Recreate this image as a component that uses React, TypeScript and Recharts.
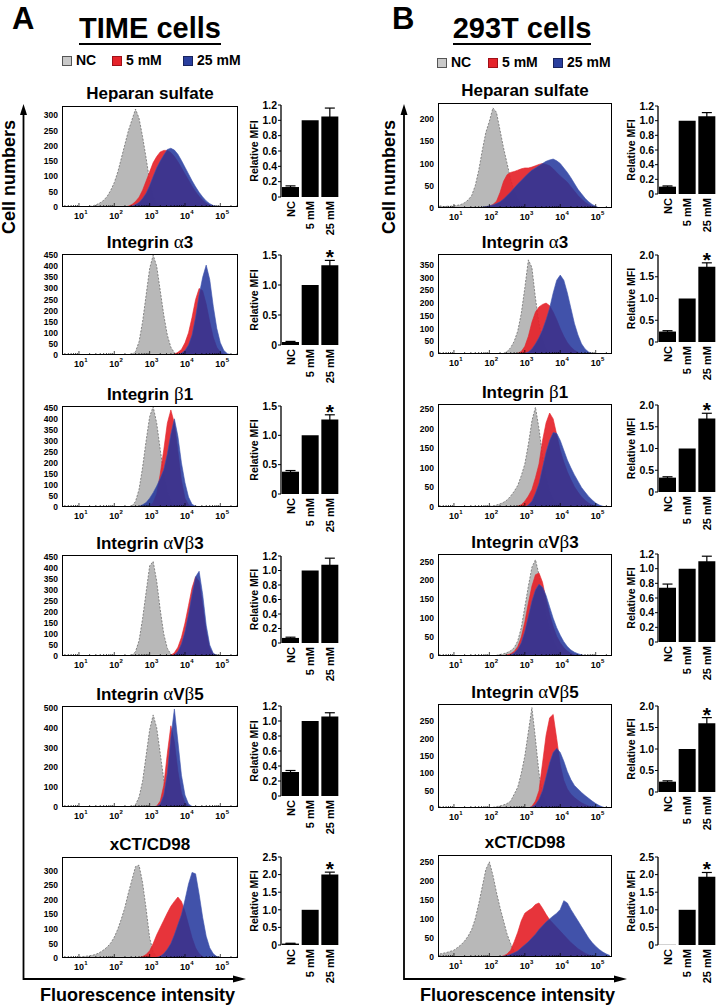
import React from 'react'
import { AreaChart, Area, XAxis, YAxis, BarChart, Bar, ErrorBar, LabelList } from 'recharts'

const FONT = '"Liberation Sans", Arial, Helvetica, sans-serif'
const GREEK_FONT = '"Liberation Serif", "DejaVu Serif", serif'
const GRAY = '#b8b8b8'
const RED = '#e5232a'
const BLUE = '#22359c'

const GROUPS = ['NC', '5 mM', '25 mM']
const TITLES = ['Heparan sulfate', 'Integrin α3', 'Integrin β1', 'Integrin αVβ3', 'Integrin αVβ5', 'xCT/CD98']

// ---- histograms, panel A (TIME cells); x is log10 fluorescence, bins of 0.1 ----
const A1_NC_FROM = 1.3
const A1_NC = [2, 4, 8, 14, 22, 35, 55, 80, 115, 160, 205, 250, 285, 320, 290, 230, 160, 85, 35, 10, 3, 0]
const A1_M5_FROM = 2.4
const A1_M5 = [3, 8, 18, 32, 55, 85, 115, 145, 165, 180, 185, 185, 178, 165, 148, 128, 108, 88, 68, 50, 35, 22, 12, 6, 2, 0]
const A1_M25_FROM = 2.5
const A1_M25 = [3, 8, 15, 28, 45, 70, 100, 128, 150, 170, 188, 192, 186, 172, 152, 130, 108, 86, 66, 48, 33, 20, 11, 5, 2, 0]

const A2_NC_FROM = 2.5
const A2_NC = [3, 15, 60, 150, 270, 390, 450, 400, 290, 180, 90, 35, 10, 2, 0]
const A2_M5_FROM = 3.7
const A2_M5 = [3, 12, 25, 55, 100, 170, 250, 300, 290, 230, 150, 80, 35, 12, 3, 0]
const A2_M25_FROM = 3.8
const A2_M25 = [3, 8, 20, 45, 90, 170, 270, 350, 405, 340, 220, 120, 55, 20, 6, 2, 0]

const A3_NC_FROM = 2.5
const A3_NC = [5, 25, 80, 180, 300, 410, 455, 380, 260, 150, 70, 25, 6, 0]
const A3_M5_FROM = 3.0
const A3_M5 = [5, 20, 60, 150, 260, 380, 440, 380, 250, 120, 40, 10, 2, 0]
const A3_M25_FROM = 2.7
const A3_M25 = [3, 10, 20, 40, 65, 95, 130, 170, 240, 330, 400, 320, 200, 110, 45, 12, 3, 0]

const A4_NC_FROM = 2.5
const A4_NC = [3, 20, 70, 170, 290, 410, 430, 340, 210, 100, 35, 8, 0]
const A4_M5_FROM = 3.6
const A4_M5 = [3, 15, 40, 85, 150, 230, 310, 360, 340, 230, 110, 35, 8, 0]
const A4_M25_FROM = 3.7
const A4_M25 = [5, 20, 55, 110, 190, 280, 360, 385, 280, 140, 50, 12, 3, 0]

const A5_NC_FROM = 2.5
const A5_NC = [2, 12, 50, 130, 260, 390, 465, 400, 270, 140, 55, 15, 3, 0]
const A5_M5_FROM = 3.2
const A5_M5 = [5, 30, 110, 270, 410, 330, 180, 70, 20, 5, 0]
const A5_M25_FROM = 3.2
const A5_M25 = [3, 15, 60, 170, 350, 495, 330, 160, 60, 15, 3, 0]

const A6_NC_FROM = 1.0
const A6_NC = [3, 5, 6, 8, 10, 14, 20, 28, 38, 52, 72, 100, 135, 175, 225, 270, 315, 320, 260, 170, 70, 20, 5, 0]
const A6_M5_FROM = 2.7
const A6_M5 = [2, 5, 12, 25, 50, 80, 105, 130, 155, 178, 195, 210, 195, 160, 115, 70, 35, 15, 5, 0]
const A6_M25_FROM = 3.2
const A6_M25 = [2, 6, 15, 30, 50, 80, 115, 150, 200, 255, 295, 290, 220, 140, 75, 35, 15, 5, 2, 0]

// ---- histograms, panel B (293T cells) ----
const B1_NC_FROM = 0.6
const B1_NC = [5, 3, 4, 4, 5, 6, 8, 12, 18, 28, 50, 85, 130, 170, 195, 225, 215, 175, 135, 100, 65, 38, 20, 10, 4, 0]
const B1_M5_FROM = 1.9
const B1_M5 = [2, 4, 8, 15, 35, 60, 75, 80, 82, 85, 88, 90, 90, 92, 95, 98, 100, 98, 95, 88, 80, 72, 65, 58, 48, 38, 28, 20, 13, 8, 4, 2, 0]
const B1_M25_FROM = 1.8
const B1_M25 = [2, 3, 5, 7, 10, 14, 20, 28, 36, 45, 54, 62, 70, 78, 85, 90, 95, 100, 105, 108, 110, 106, 100, 90, 80, 68, 55, 42, 32, 22, 14, 8, 4, 0]

const B2_NC_FROM = 2.4
const B2_NC = [3, 10, 25, 50, 90, 160, 260, 370, 340, 220, 120, 55, 20, 5, 0]
const B2_M5_FROM = 2.8
const B2_M5 = [3, 10, 30, 70, 125, 165, 185, 195, 200, 190, 165, 135, 100, 70, 45, 28, 15, 7, 2, 0]
const B2_M25_FROM = 3.0
const B2_M25 = [3, 8, 20, 40, 65, 95, 135, 180, 240, 290, 310, 290, 240, 180, 120, 75, 40, 20, 8, 2, 0]

const B3_NC_FROM = 2.0
const B3_NC = [2, 3, 5, 8, 12, 18, 28, 40, 55, 80, 110, 160, 220, 255, 200, 130, 75, 40, 20, 8, 2, 0]
const B3_M5_FROM = 2.8
const B3_M5 = [2, 6, 15, 28, 45, 75, 110, 170, 215, 240, 225, 185, 145, 115, 90, 70, 52, 38, 26, 17, 10, 5, 2, 0]
const B3_M25_FROM = 3.1
const B3_M25 = [5, 15, 35, 60, 100, 140, 170, 190, 188, 170, 145, 120, 100, 82, 66, 50, 38, 27, 18, 10, 5, 2, 0]

const B4_NC_FROM = 2.2
const B4_NC = [2, 4, 6, 9, 14, 22, 40, 75, 130, 185, 235, 255, 215, 160, 110, 70, 42, 22, 10, 4, 0]
const B4_M5_FROM = 2.5
const B4_M5 = [3, 6, 12, 25, 50, 90, 140, 185, 215, 220, 195, 150, 110, 78, 52, 35, 22, 13, 7, 3, 0]
const B4_M25_FROM = 2.6
const B4_M25 = [3, 8, 18, 35, 65, 105, 145, 175, 190, 182, 160, 130, 100, 75, 55, 38, 25, 16, 10, 6, 3, 1, 0]

const B5_NC_FROM = 2.1
const B5_NC = [2, 4, 6, 9, 13, 20, 40, 60, 100, 150, 220, 290, 200, 100, 40, 12, 3, 0]
const B5_M5_FROM = 3.2
const B5_M5 = [5, 20, 50, 130, 210, 260, 270, 200, 125, 80, 55, 40, 30, 22, 15, 10, 6, 3, 0]
const B5_M25_FROM = 3.2
const B5_M25 = [3, 10, 25, 50, 90, 130, 160, 172, 160, 135, 105, 82, 65, 55, 45, 36, 28, 20, 13, 7, 3, 0]

const B6_NC_FROM = 0.6
const B6_NC = [8, 10, 12, 15, 18, 25, 32, 42, 55, 72, 100, 140, 185, 230, 250, 215, 170, 130, 95, 60, 35, 15, 4, 0]
const B6_M5_FROM = 2.4
const B6_M5 = [3, 8, 18, 40, 65, 95, 115, 122, 128, 138, 142, 128, 112, 98, 88, 78, 68, 58, 48, 38, 30, 22, 16, 10, 6, 3, 0]
const B6_M25_FROM = 2.4
const B6_M25 = [2, 4, 7, 11, 16, 24, 32, 40, 50, 60, 72, 82, 92, 100, 108, 115, 125, 148, 142, 125, 110, 95, 80, 65, 50, 38, 28, 20, 13, 8, 4]

// histogram y ticks / tops
const A_HIST_TICKS = [
  [0, 50, 100, 150, 200, 250, 300],
  [0, 50, 100, 150, 200, 250, 300, 350, 400, 450],
  [0, 50, 100, 150, 200, 250, 300, 350, 400, 450],
  [0, 50, 100, 150, 200, 250, 300, 350, 400, 450],
  [0, 100, 200, 300, 400, 500],
  [0, 50, 100, 150, 200, 250, 300],
]
const A_HIST_MAX = [330, 455, 458, 459, 510, 348]
const B_HIST_TICKS = [
  [0, 50, 100, 150, 200],
  [0, 50, 100, 150, 200, 250, 300, 350],
  [0, 50, 100, 150, 200, 250],
  [0, 50, 100, 150, 200, 250],
  [0, 50, 100, 150, 200, 250],
  [0, 50, 100, 150, 200, 250],
]
const B_HIST_MAX = [236, 393, 263, 270, 300, 268]

// ---- relative MFI bars ----
const A_MFI = [[0.13, 1, 1.05], [0.05, 1, 1.33], [0.38, 1, 1.27], [0.07, 1, 1.08], [0.32, 1, 1.06], [0.04, 1, 2.0]]
const A_ERR = [[0.015, 0, 0.11], [0.01, 0, 0.08], [0.02, 0, 0.08], [0.01, 0, 0.09], [0.02, 0, 0.05], [0.01, 0, 0.07]]
const A_SIG = [['', '', ''], ['', '', '*'], ['', '', '*'], ['', '', ''], ['', '', ''], ['', '', '*']]
const B_MFI = [[0.1, 1, 1.06], [0.24, 1, 1.73], [0.33, 1, 1.69], [0.74, 1, 1.1], [0.24, 1, 1.6], [0.005, 1, 1.94]]
const B_ERR = [[0.01, 0, 0.05], [0.02, 0, 0.09], [0.02, 0, 0.12], [0.05, 0, 0.07], [0.02, 0, 0.13], [0, 0, 0.12]]
const B_SIG = [['', '', ''], ['', '', '*'], ['', '', '*'], ['', '', ''], ['', '', '*'], ['', '', '*']]

const T12 = [0, 0.2, 0.4, 0.6, 0.8, 1.0, 1.2]
const T15 = [0, 0.5, 1.0, 1.5]
const T20 = [0, 0.5, 1.0, 1.5, 2.0]
const T25 = [0, 0.5, 1.0, 1.5, 2.0, 2.5]
const A_BAR_TICKS = [T12, T15, T15, T12, T12, T25]
const B_BAR_TICKS = [T12, T20, T20, T12, T20, T25]

function hist(ncFrom: number, nc: number[], m5From: number, m5: number[], m25From: number, m25: number[]) {
  const rows = new Map<number, { x: number; nc: number; m5: number; m25: number }>()
  const add = (key: 'nc' | 'm5' | 'm25', from: number, vals: number[]) => {
    vals.forEach((v, i) => {
      const k = Math.round(from * 10) + i
      if (!rows.has(k)) rows.set(k, { x: k / 10, nc: 0, m5: 0, m25: 0 })
      rows.get(k)![key] = v
    })
  }
  add('nc', ncFrom, nc)
  add('m5', m5From, m5)
  add('m25', m25From, m25)
  return [...rows.entries()].sort((a, b) => a[0] - b[0]).map((e) => e[1])
}

const A_HISTS = [
  hist(A1_NC_FROM, A1_NC, A1_M5_FROM, A1_M5, A1_M25_FROM, A1_M25),
  hist(A2_NC_FROM, A2_NC, A2_M5_FROM, A2_M5, A2_M25_FROM, A2_M25),
  hist(A3_NC_FROM, A3_NC, A3_M5_FROM, A3_M5, A3_M25_FROM, A3_M25),
  hist(A4_NC_FROM, A4_NC, A4_M5_FROM, A4_M5, A4_M25_FROM, A4_M25),
  hist(A5_NC_FROM, A5_NC, A5_M5_FROM, A5_M5, A5_M25_FROM, A5_M25),
  hist(A6_NC_FROM, A6_NC, A6_M5_FROM, A6_M5, A6_M25_FROM, A6_M25),
]
const B_HISTS = [
  hist(B1_NC_FROM, B1_NC, B1_M5_FROM, B1_M5, B1_M25_FROM, B1_M25),
  hist(B2_NC_FROM, B2_NC, B2_M5_FROM, B2_M5, B2_M25_FROM, B2_M25),
  hist(B3_NC_FROM, B3_NC, B3_M5_FROM, B3_M5, B3_M25_FROM, B3_M25),
  hist(B4_NC_FROM, B4_NC, B4_M5_FROM, B4_M5, B4_M25_FROM, B4_M25),
  hist(B5_NC_FROM, B5_NC, B5_M5_FROM, B5_M5, B5_M25_FROM, B5_M25),
  hist(B6_NC_FROM, B6_NC, B6_M5_FROM, B6_M5, B6_M25_FROM, B6_M25),
]

// decade + minor log ticks inside a domain
function logTicks(dom: number[]) {
  const out: number[] = []
  for (let n = 0; n <= 5; n++) {
    for (let k = 1; k <= 9; k++) {
      const v = n + Math.log10(k)
      if (v >= dom[0] && v <= dom[1]) out.push(v)
    }
  }
  return out
}

const greek = (t: string) =>
  t.split(/([αβ])/).map((s, i) =>
    /[αβ]/.test(s) ? (
      <span key={i} style={{ fontFamily: GREEK_FONT, fontWeight: 400, fontSize: '1.12em' }}>{s}</span>
    ) : (
      <React.Fragment key={i}>{s}</React.Fragment>
    )
  )

function LogTick(props: any) {
  const { x, y, payload } = props
  const v = payload.value
  const major = Math.abs(v - Math.round(v)) < 1e-6
  return (
    <g>
      <line x1={x} x2={x} y1={y} y2={y - (major ? 4 : 2)} stroke="#000" strokeWidth={0.7} />
      {major && (
        <>
          <text x={x} y={y + 11.5} textAnchor="middle" fontSize={9} fontWeight={700} fontFamily={FONT} fill="#000">10</text>
          <text x={x + 5.3} y={y + 7} textAnchor="start" fontSize={6} fontWeight={700} fontFamily={FONT} fill="#000">{Math.round(v)}</text>
        </>
      )}
    </g>
  )
}

function Hist({ left, top, w, h, dom, yMax, yTicks, data, title }: any) {
  const PT = 5
  const YW = 30
  return (
    <>
      <div style={{ position: 'absolute', left, top: top - 21, width: w, textAlign: 'center', fontSize: 17, lineHeight: '17px', fontWeight: 700, whiteSpace: 'nowrap' }}>
        {greek(title)}
      </div>
      <div style={{ position: 'absolute', left: left - YW, top: top - PT }}>
        <AreaChart width={w + YW} height={h + PT + 20} data={data} margin={{ top: PT, right: 0, bottom: 0, left: 0 }}>
          <XAxis
            type="number"
            dataKey="x"
            domain={dom}
            allowDataOverflow
            ticks={logTicks(dom)}
            interval={0}
            tick={(p: any) => <LogTick {...p} />}
            tickSize={0}
            tickMargin={0}
            axisLine={false}
            tickLine={false}
            height={20}
          />
          <YAxis
            type="number"
            domain={[0, yMax]}
            allowDataOverflow
            ticks={yTicks}
            interval={0}
            width={YW}
            tickSize={2}
            tickMargin={2}
            axisLine={false}
            tickLine={false}
            tick={{ fontSize: 8.5, fontWeight: 700, fill: '#000', fontFamily: FONT }}
          />
          <Area type="linear" dataKey="nc" fill={GRAY} fillOpacity={1} stroke="#6f6f6f" strokeWidth={0.8} strokeDasharray="2 1.5" dot={false} activeDot={false} isAnimationActive={false} />
          <Area type="linear" dataKey="m5" fill={RED} fillOpacity={0.92} stroke={RED} strokeWidth={0.6} dot={false} activeDot={false} isAnimationActive={false} />
          <Area type="linear" dataKey="m25" fill={BLUE} fillOpacity={0.86} stroke="#3a52ad" strokeWidth={0.6} dot={false} activeDot={false} isAnimationActive={false} />
        </AreaChart>
      </div>
      <div style={{ position: 'absolute', left, top, width: w, height: h, border: '1.5px solid #000', boxSizing: 'border-box', pointerEvents: 'none' }} />
    </>
  )
}

function RotTick(props: any) {
  const { x, y, payload } = props
  return (
    <text x={x} y={y} transform={`rotate(-90, ${x}, ${y})`} textAnchor="end" dy="0.36em" fontSize={11} fontWeight={700} fontFamily={FONT} fill="#000">
      {payload.value}
    </text>
  )
}

const fmt = (v: number) => (v === 0 ? '0' : v.toFixed(1))

function MfiBars({ axisX, top, bottom, yMax, yTicks, vals, errs, sig }: any) {
  const data = GROUPS.map((g, i) => ({ g, v: vals[i], e: errs[i], s: sig[i] }))
  const MT = 16
  const XH = 42
  const YW = 50
  const PW = 59
  const renderStar = (p: any) => {
    if (!p.value) return null
    const row = data.find((d) => d.s)!
    const perUnit = p.height / row.v
    const errTop = p.y - row.e * perUnit
    return (
      <text x={p.x + p.width / 2} y={errTop + 4} textAnchor="middle" fontSize={21} fontWeight={700} fontFamily={FONT} fill="#000">
        *
      </text>
    )
  }
  return (
    <div style={{ position: 'absolute', left: axisX - YW, top: top - MT }}>
      <BarChart width={YW + PW + 2} height={MT + (bottom - top) + XH} data={data} margin={{ top: MT, right: 2, bottom: 0, left: 0 }}>
        <XAxis dataKey="g" axisLine={false} tickLine={false} tickSize={0} tickMargin={4} interval={0} height={XH} tick={(p: any) => <RotTick {...p} />} />
        <YAxis
          type="number"
          domain={[0, yMax]}
          ticks={yTicks}
          interval={0}
          width={YW}
          axisLine={{ stroke: '#000', strokeWidth: 1.3 }}
          tickLine={{ stroke: '#000', strokeWidth: 1 }}
          tickSize={3}
          tickMargin={1}
          tickFormatter={fmt}
          tick={{ fontSize: 10.5, fontWeight: 700, fill: '#000', fontFamily: FONT }}
          label={{ value: 'Relative MFI', angle: -90, position: 'center', dx: -2, fontSize: 10.5, fontWeight: 700, fill: '#000', fontFamily: FONT }}
        />
        <Bar dataKey="v" fill="#000" barSize={17} isAnimationActive={false}>
          <ErrorBar dataKey="e" width={5} stroke="#000" strokeWidth={1.2} direction="y" />
          <LabelList dataKey="s" content={renderStar} />
        </Bar>
      </BarChart>
    </div>
  )
}

function Legend({ x, y, gap }: any) {
  const items = [
    { label: 'NC', color: '#c9c9c9', border: '#555' },
    { label: '5 mM', color: RED, border: '#a01018' },
    { label: '25 mM', color: '#2a3f9e', border: '#18235e' },
  ]
  return (
    <>
      {items.map((it, i) => (
        <React.Fragment key={it.label}>
          <div style={{ position: 'absolute', left: x[i], top: y, width: 10, height: 10, background: it.color, border: `1px solid ${it.border}`, boxSizing: 'border-box' }} />
          <div style={{ position: 'absolute', left: x[i] + gap, top: y - 3, fontSize: 14, lineHeight: '14px', fontWeight: 700, whiteSpace: 'nowrap' }}>{it.label}</div>
        </React.Fragment>
      ))}
    </>
  )
}

function Panel({ letter, letterX, title, titleCx, legendX, legendY, axisX, arrowEnd, fluoX, histLeft, histW, histTops, histHs, dom, hists, histTicks, histMax, barX, barTops, barBottoms, barTicks, mfi, err, sig }: any) {
  return (
    <>
      <div style={{ position: 'absolute', left: letterX, top: 3, fontSize: 31, lineHeight: '31px', fontWeight: 700 }}>{letter}</div>
      <div style={{ position: 'absolute', left: titleCx - 120, top: 14, width: 240, textAlign: 'center' }}>
        <span style={{ display: 'inline-block', fontSize: 29, lineHeight: '29px', fontWeight: 700, borderBottom: '2px solid #000' }}>{title}</span>
      </div>
      <Legend x={legendX} y={legendY} gap={14} />
      <div style={{ position: 'absolute', left: axisX - 15 - 100, top: 177 - 11, width: 200, height: 22, lineHeight: '22px', fontSize: 18, fontWeight: 700, textAlign: 'center', transform: 'rotate(-90deg)', whiteSpace: 'nowrap' }}>
        Cell numbers
      </div>
      <svg style={{ position: 'absolute', left: 0, top: 0, pointerEvents: 'none' }} width={720} height={1007}>
        <polyline points={`${axisX},112 ${axisX},979 ${arrowEnd - 10},979`} fill="none" stroke="#000" strokeWidth={1.8} />
        <polygon points={`${axisX - 3.5},115 ${axisX + 3.5},115 ${axisX},104`} fill="#000" />
        <polygon points={`${arrowEnd - 13},975.5 ${arrowEnd - 13},982.5 ${arrowEnd},979`} fill="#000" />
      </svg>
      <div style={{ position: 'absolute', left: fluoX, top: 986, fontSize: 18, lineHeight: '18px', fontWeight: 700, whiteSpace: 'nowrap' }}>Fluorescence intensity</div>
      {TITLES.map((t, i) => (
        <React.Fragment key={t}>
          <Hist left={histLeft} top={histTops[i]} w={histW} h={histHs[i]} dom={dom} yMax={histMax[i]} yTicks={histTicks[i]} data={hists[i]} title={t} />
          <MfiBars axisX={barX} top={barTops[i]} bottom={barBottoms[i]} yMax={barTicks[i][barTicks[i].length - 1]} yTicks={barTicks[i]} vals={mfi[i]} errs={err[i]} sig={sig[i]} />
        </React.Fragment>
      ))}
    </>
  )
}

export default function App() {
  return (
    <div style={{ position: 'absolute', left: 0, top: 0, width: 720, height: 1007, overflow: 'hidden', background: '#fff', color: '#000', fontFamily: FONT }}>
      <Panel
        letter="A"
        letterX={12}
        title="TIME cells"
        titleCx={150}
        legendX={[62, 112, 183]}
        legendY={56}
        axisX={23.5}
        arrowEnd={246}
        fluoX={40}
        histLeft={62}
        histW={176}
        histTops={[106, 254, 406, 555, 706, 857]}
        histHs={[101, 101, 101, 101, 101, 101]}
        dom={[0.52, 5.5]}
        hists={A_HISTS}
        histTicks={A_HIST_TICKS}
        histMax={A_HIST_MAX}
        barX={281}
        barTops={[105, 255, 406, 556, 706, 857]}
        barBottoms={[197, 345, 494, 643, 796, 945]}
        barTicks={A_BAR_TICKS}
        mfi={A_MFI}
        err={A_ERR}
        sig={A_SIG}
      />
      <Panel
        letter="B"
        letterX={392}
        title="293T cells"
        titleCx={522}
        legendX={[437, 488, 553]}
        legendY={58}
        axisX={404}
        arrowEnd={627}
        fluoX={420}
        histLeft={438}
        histW={174}
        histTops={[103, 254, 404, 554, 704, 855]}
        histHs={[105, 100, 103, 102, 104, 102]}
        dom={[0.55, 5.46]}
        hists={B_HISTS}
        histTicks={B_HIST_TICKS}
        histMax={B_HIST_MAX}
        barX={658}
        barTops={[106, 255, 405, 554, 706, 857]}
        barBottoms={[194, 342, 492, 642, 792, 945]}
        barTicks={B_BAR_TICKS}
        mfi={B_MFI}
        err={B_ERR}
        sig={B_SIG}
      />
    </div>
  )
}
